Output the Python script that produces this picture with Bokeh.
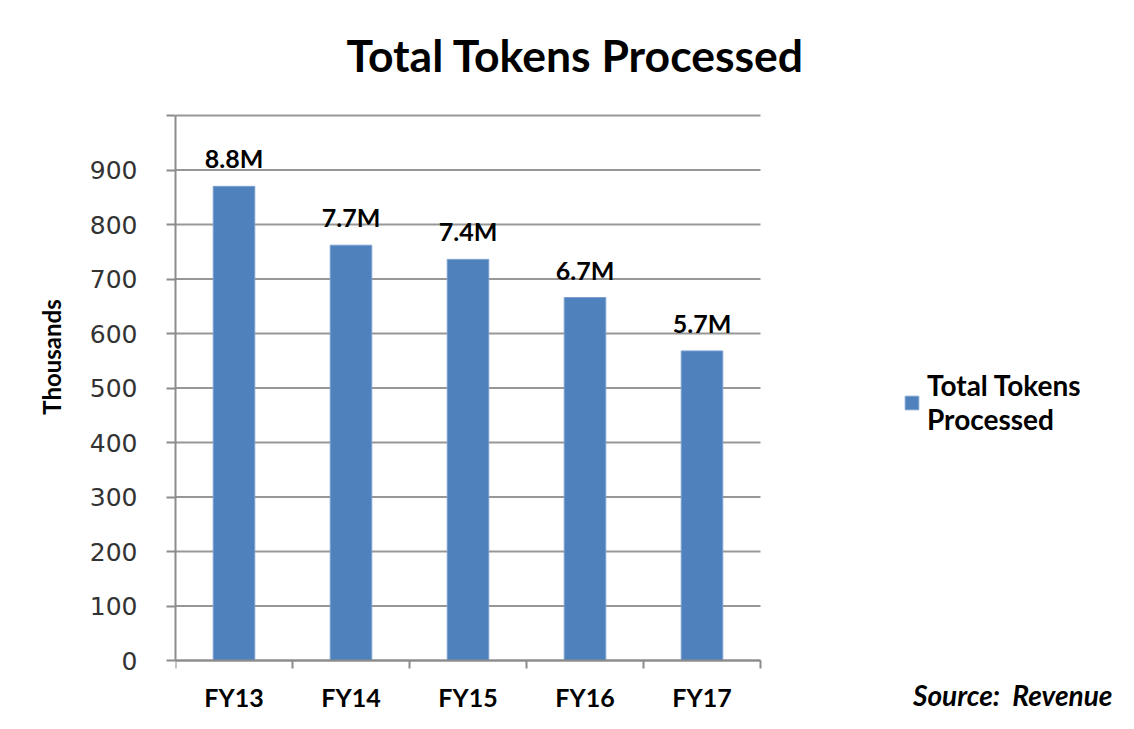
from bokeh.plotting import figure
from bokeh.models import (Range1d, FixedTicker, LabelSet, Label, Legend, LegendItem,
                          ColumnDataSource)
from bokeh.core.properties import value
from bokeh.embed import file_html
from bokeh.resources import INLINE

# ---- data ----
categories = ["FY13", "FY14", "FY15", "FY16", "FY17"]
tokens_thousands = [870, 762, 736, 666, 568]
value_labels = ["8.8M", "7.7M", "7.4M", "6.7M", "5.7M"]
y_ticks = [0, 100, 200, 300, 400, 500, 600, 700, 800, 900, 1000]
y_tick_labels = ["0", "100", "200", "300", "400", "500", "600", "700", "800", "900", ""]
series_name = "Total Tokens\nProcessed"
chart_title = "Total Tokens Processed"
source_note = "Source:\u00a0 Revenue"
y_axis_title = "Thousands"

BAR = "#4F81BD"
GRAY = "#8c8c8c"

# ---- layout geometry (pixels) ----
W, H = 1118, 713
FRAME_LEFT = 175                    # frame spans from here to the right edge
PLOT_TOP, PLOT_BOTTOM = 115, 660    # pixel rows of y=1000 and y=0
PLOT_RIGHT = 760                    # pixel column of the last category boundary
n = len(categories)
y_lo, y_hi = y_ticks[0], y_ticks[-1]
ppu_y = (PLOT_BOTTOM - PLOT_TOP) / (y_hi - y_lo)
ppu_x = (PLOT_RIGHT - FRAME_LEFT) / n
x_start = -0.5
x_end = x_start + (W - FRAME_LEFT) / ppu_x
y_start = y_lo - (H - PLOT_BOTTOM) / ppu_y
y_end = y_lo + PLOT_BOTTOM / ppu_y

idx = list(range(n))
src = ColumnDataSource(dict(x=idx, top=tokens_thousands, label=value_labels))

p = figure(width=W, height=H, output_backend="svg", toolbar_location=None,
           x_range=Range1d(x_start, x_end), y_range=Range1d(y_start, y_end),
           min_border_left=FRAME_LEFT, min_border_right=0, min_border_top=0,
           min_border_bottom=0, min_border=0)
p.outline_line_color = None
p.background_fill_color = "white"
p.border_fill_color = "white"
p.xgrid.visible = False
p.ygrid.visible = False

# horizontal grid lines across the category span
p.segment(x0=[x_start] * len(y_ticks), x1=[n - 0.5] * len(y_ticks), y0=y_ticks, y1=y_ticks,
          line_color=GRAY, line_width=2, line_alpha=0.9)

bars = p.vbar(x="x", top="top", width=0.355, source=src, fill_color=BAR,
              line_color="#7aa0cf", line_width=1)

labels = LabelSet(x="x", y="top", text="label", source=src, y_offset=18,
                  text_align="center", text_baseline="alphabetic",
                  text_font=value("Lato"), text_font_style="bold",
                  text_font_size=value("25px"), text_color="black")
p.add_layout(labels)

# y axis
p.yaxis.bounds = (y_lo, y_hi)
p.yaxis.ticker = FixedTicker(ticks=y_ticks)
p.yaxis.major_label_overrides = dict(zip(y_ticks, y_tick_labels))
p.yaxis.axis_label = y_axis_title
p.yaxis.axis_label_text_font = "Lato"
p.yaxis.axis_label_text_font_style = "bold"
p.yaxis.axis_label_text_font_size = "24px"
p.yaxis.axis_label_text_color = "black"
p.yaxis.axis_label_standoff = 21
p.yaxis.major_label_text_font = "DejaVu Sans"
p.yaxis.major_label_text_font_size = "25px"
p.yaxis.major_label_text_color = "#333333"
p.yaxis.major_label_standoff = 29
p.yaxis.major_tick_out = 9
p.yaxis.major_tick_in = 0
p.yaxis.minor_tick_line_color = None
p.yaxis.axis_line_color = GRAY
p.yaxis.axis_line_width = 2
p.yaxis.major_tick_line_color = GRAY
p.yaxis.major_tick_line_width = 2

# x axis, pinned at y = 0
p.xaxis.fixed_location = y_lo
p.xaxis.bounds = (x_start, n - 0.5)
p.xaxis.ticker = FixedTicker(ticks=idx, minor_ticks=[i - 0.5 for i in range(n + 1)])
p.xaxis.major_label_overrides = dict(zip(idx, categories))
p.xaxis.major_tick_line_color = None
p.xaxis.major_tick_out = 0
p.xaxis.major_tick_in = 0
p.xaxis.minor_tick_out = 8
p.xaxis.minor_tick_in = 0
p.xaxis.minor_tick_line_color = GRAY
p.xaxis.minor_tick_line_width = 2
p.xaxis.axis_line_color = GRAY
p.xaxis.axis_line_width = 2
p.xaxis.major_label_text_font = "Lato"
p.xaxis.major_label_text_font_style = "bold"
p.xaxis.major_label_text_font_size = "25px"
p.xaxis.major_label_text_color = "black"
p.xaxis.major_label_standoff = 13

# title (screen units are measured from the frame's bottom-left corner)
TITLE_FS = 44.5
p.add_layout(Label(x=575 - FRAME_LEFT, y=H - (70 - 0.36 * TITLE_FS), x_units="screen",
                   y_units="screen", text=chart_title, text_align="center",
                   text_baseline="middle", text_font="Lato", text_font_style="bold",
                   text_font_size=f"{TITLE_FS}px", text_color="black"))
# source note
SRC_FS = 28
p.add_layout(Label(x=1112 - FRAME_LEFT, y=H - (705 - 0.36 * SRC_FS), x_units="screen",
                   y_units="screen", text=source_note, text_align="right",
                   text_baseline="middle", text_font="Lato",
                   text_font_style="bold italic", text_font_size=f"{SRC_FS}px",
                   text_color="black"))

legend = Legend(items=[LegendItem(label=series_name, renderers=[bars])],
                location=(903 - FRAME_LEFT, H - 436), padding=0, margin=0,
                border_line_color=None, background_fill_alpha=0, glyph_width=17,
                glyph_height=17, label_standoff=7, label_text_font="Lato",
                label_text_font_style="bold", label_text_font_size="28px",
                label_text_color="black")
p.add_layout(legend)

open("out.html", "w").write(file_html(p, INLINE))
